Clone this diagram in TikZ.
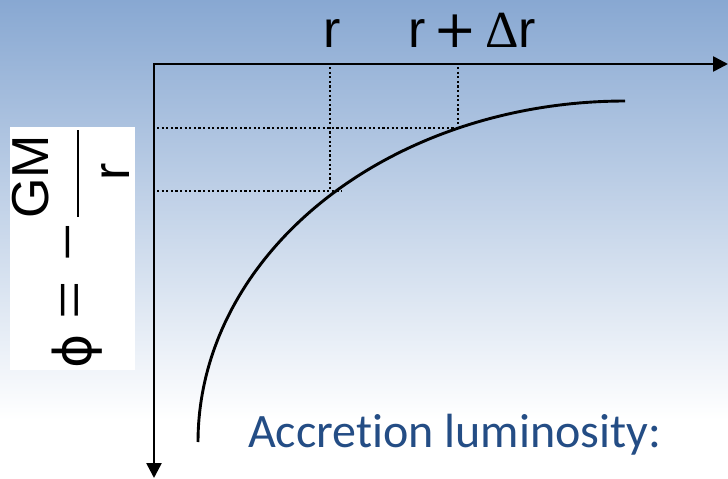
\documentclass[tikz,border=0pt]{standalone}
\usepackage{fontspec}
\usetikzlibrary{arrows.meta}
\newfontfamily\lsans{Liberation Sans}
\newfontfamily\lserif{Liberation Serif}
\newfontfamily\carl[Ligatures=NoCommon]{Carlito}
\newfontfamily\dvs{DejaVu Sans}
\definecolor{bgtop}{RGB}{136,168,210}
\definecolor{txtblue}{RGB}{36,77,133}
\begin{document}
\begin{tikzpicture}[x=1pt,y=-1pt,
  axis/.style={line width=2.6pt,{Triangle[length=15pt,width=15pt]}-{Triangle[length=15pt,width=15pt]}},
  guide/.style={line width=2.3pt, dash pattern=on 2.2pt off 2.4pt},
  curve/.style={line width=2.9pt},
  formula/.style={inner sep=0pt, font=\fontsize{52}{60}\selectfont},
  opsym/.style={inner sep=0pt, font=\lserif\fontsize{68}{76}\selectfont},
  ]
\useasboundingbox (0,0) rectangle (728,479);
\shade[top color=bgtop,bottom color=white] (0,0) rectangle (728,420);
\fill[white] (0,420) rectangle (728,479);

% formula box
\fill[white] (10,127) rectangle (135,370);
\node[formula, rotate=90] (phi) at (77,351) {\dvs ϕ};
\node[opsym, rotate=90] (eq) at (77,300) {=};
\node[opsym, rotate=90] (minus) at (78,242) {−};
\coordinate (barA) at (78,130);
\coordinate (barB) at (78,217);
\draw[line width=2.5pt] (barA) -- (barB);
\node[formula, rotate=90] (gm) at (31,177) {\lsans GM};
\node[formula, rotate=90] (rr) at (116,172) {\lsans r};

% guides
\coordinate (r1top) at (330,67);
\coordinate (r1bot) at (330,191);
\coordinate (r2top) at (458,67);
\coordinate (r2bot) at (458,128);
\coordinate (h1l) at (157,128);
\coordinate (h2l) at (157,191);
\coordinate (h2r) at (342,191);
\draw[guide] (r1top) -- (r1bot);
\draw[guide] (r2top) -- (r2bot);
\draw[guide] (h1l) -- (r2bot);
\draw[guide] (h2l) -- (h2r);

% curve
\draw[curve] plot[domain=0:90,samples=90] ({625-427*cos(\x)},{442-341*sin(\x)});

% axes
\coordinate (O) at (154,64);
\coordinate (xe) at (728,64);
\coordinate (ye) at (154,478);
\draw[axis] (ye) -- (O) -- (xe);

% labels
\node[formula, anchor=base] (lr) at (332,47) {\lsans r};
\node[formula, anchor=base] (lrdr) at (472,47) {\lsans r\hspace{8pt}{\dvs +}\hspace{8pt}{\lserif Δ}r};

\node[anchor=base west, inner sep=0pt, text=txtblue, font=\carl\fontsize{48}{56}\selectfont] (acc) at (248,447) {Accretion luminosity:};
\end{tikzpicture}
\end{document}
